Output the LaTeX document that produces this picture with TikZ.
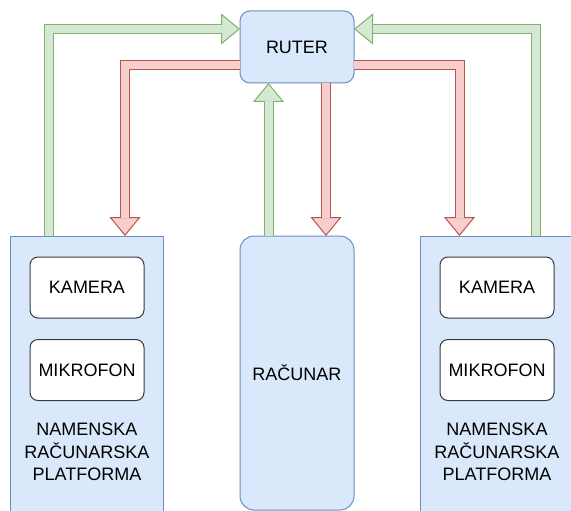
\documentclass[tikz,border=0pt]{standalone}
\usepackage{fontspec}
\setmainfont{Liberation Sans}
\usetikzlibrary{arrows.meta,calc}

\definecolor{blfill}{HTML}{DAE8FC}
\definecolor{blline}{HTML}{6C8EBF}
\definecolor{grfill}{HTML}{D5E8D4}
\definecolor{grline}{HTML}{82B366}
\definecolor{rdfill}{HTML}{F8CECC}
\definecolor{rdline}{HTML}{B85450}
\definecolor{partline}{HTML}{36393D}

\tikzset{
  txt/.style={font=\fontsize{18}{22.5}\selectfont, align=center},
  box/.style={txt, draw=blline, fill=blfill, line width=1pt, inner sep=0pt, outer sep=0pt},
  part/.style={txt, draw=partline, fill=white, rounded corners=8pt, line width=1pt,
    minimum width=114pt, minimum height=61pt, inner sep=0pt, outer sep=0pt},
  flat/.style 2 args={draw=#2, line width=10pt,
    -{Triangle[length=19pt, width=31pt, line width=1pt, fill=#1, color=#2]},
    postaction={draw=#1, line width=8pt, shorten >=18.5pt, arrows=-}},
  garrow/.style={flat={grfill}{grline}},
  rarrow/.style={flat={rdfill}{rdline}}
}

\begin{document}
\begin{tikzpicture}[x=1pt, y=-1pt]

\useasboundingbox (0,0) rectangle (571,511);
\clip (0,0) rectangle (571,511);

\node[box, minimum width=114pt, minimum height=72pt, rounded corners=10pt] (ruter) at (297,47) {RUTER};
\node[box, minimum width=114pt, minimum height=274pt, rounded corners=14pt] (racunar) at (297,373) {RAČUNAR};

% platforme
\node[box, minimum width=153pt, minimum height=285pt, anchor=north west] (lplat) at (10,236) {};
\node[box, minimum width=153pt, minimum height=285pt, anchor=north west] (rplat) at (420,236) {};

\node[part] (lkam) at (87,287.5) {KAMERA};
\node[part] (lmik) at (87,370) {MIKROFON};
\node[txt] (ltxt) at (87,452) {NAMENSKA\\RAČUNARSKA\\PLATFORMA};

\node[part] (rkam) at (497,287.5) {KAMERA};
\node[part] (rmik) at (497,370) {MIKROFON};
\node[txt] (rtxt) at (497,452) {NAMENSKA\\RAČUNARSKA\\PLATFORMA};

% strelice
\draw[garrow] ($(lplat.north west)+(39,0)$) |- ($(ruter.north west)+(0,18)$);
\draw[rarrow] ($(ruter.south west)+(0,-17.5)$) -| ($(lplat.north west)+(115,0)$);
\draw[garrow] ($(racunar.north)+(-28.5,0)$) -- ($(ruter.south)+(-28.5,0)$);
\draw[rarrow] ($(ruter.south)+(29,0)$) -- ($(racunar.north)+(29,0)$);
\draw[rarrow] ($(ruter.south east)+(0,-17.5)$) -| ($(rplat.north west)+(39.5,0)$);
\draw[garrow] ($(rplat.north west)+(115.5,0)$) |- ($(ruter.north east)+(0,18)$);

\end{tikzpicture}
\end{document}
